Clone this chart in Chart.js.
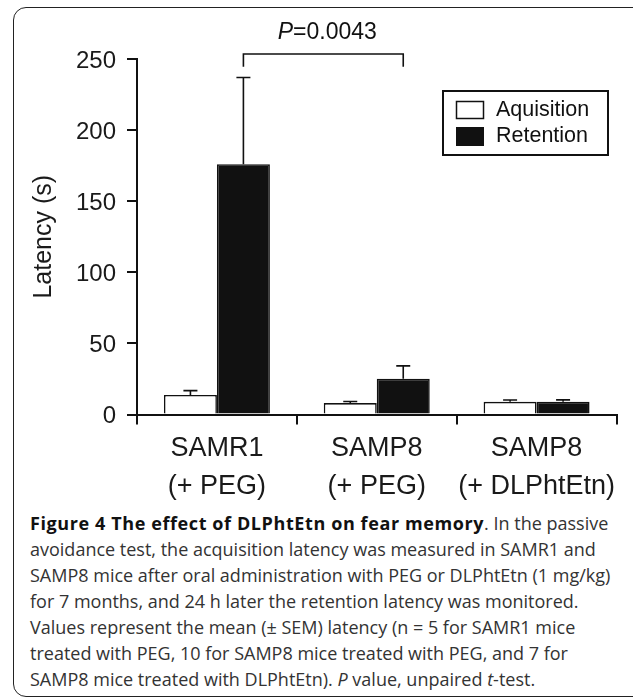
<!DOCTYPE html>
<html>
<head>
<meta charset="utf-8">
<title>Figure 4 - fear memory latency</title>
<script src="https://cdn.jsdelivr.net/npm/chart.js@4.4.1/dist/chart.umd.min.js"></script>
<style>
  html, body { margin: 0; padding: 0; background: #fff; }
  body { width: 633px; height: 700px; position: relative; overflow: hidden; }
  .frame {
    position: absolute; left: 13px; top: 7px; width: 640px; height: 690px;
    border: 1.5px solid #222; border-radius: 13px; box-sizing: border-box;
  }
  #chartWrap { position: absolute; left: 0; top: 0; width: 633px; height: 510px; }
  .caption {
    position: absolute; left: 30px; top: 510px;
    font-family: 'Open Sans', 'Noto Sans', sans-serif; font-size: 18px; line-height: 26px;
    color: #333; white-space: nowrap;
  }
  .caption b { color: #111; letter-spacing: 0.6px; }
</style>
</head>
<body>
<div class="frame"></div>
<div id="chartWrap"><canvas id="latencyChart" width="633" height="510"></canvas></div>
<div class="caption">
  <div><b>Figure 4 The effect of DLPhtEtn on fear memory</b>. In the passive</div>
  <div>avoidance test, the acquisition latency was measured in SAMR1 and</div>
  <div>SAMP8 mice after oral administration with PEG or DLPhtEtn (1 mg/kg)</div>
  <div>for 7 months, and 24 h later the retention latency was monitored.</div>
  <div>Values represent the mean (± SEM) latency (n = 5 for SAMR1 mice</div>
  <div>treated with PEG, 10 for SAMP8 mice treated with PEG, and 7 for</div>
  <div>SAMP8 mice treated with DLPhtEtn). <i>P</i> value, unpaired <i>t</i>-test.</div>
</div>

<script>
// Data
const groups = [['SAMR1', '(+ PEG)'], ['SAMP8', '(+ PEG)'], ['SAMP8', '(+ DLPhtEtn)']];
const seriesNames = ['Aquisition', 'Retention'];
const acquisition = [13.8, 8.0, 8.9];
const acquisitionSem = [3.0, 1.1, 1.3];
const retention = [176, 25.2, 9.0];
const retentionSem = [61, 9.0, 1.3];
const yTicks = [0, 50, 100, 150, 200, 250];
const pText = '=0.0043';

const INK = '#111';
const FONT = "'Liberation Sans', Arial, Helvetica, sans-serif";

// one-sided (upward) SEM bars
const errorBars = {
    id: 'errorBars',
    afterDatasetsDraw(chart) {
        const ctx = chart.ctx;
        const y = chart.scales.y;
        const sems = [acquisitionSem, retentionSem];
        ctx.save();
        ctx.strokeStyle = INK;
        ctx.lineWidth = 1.6;
        chart.data.datasets.forEach((ds, i) => {
            chart.getDatasetMeta(i).data.forEach((bar, j) => {
                const top = y.getPixelForValue(ds.data[j] + sems[i][j]);
                ctx.beginPath();
                ctx.moveTo(bar.x, bar.y);
                ctx.lineTo(bar.x, top);
                ctx.moveTo(bar.x - 7, top);
                ctx.lineTo(bar.x + 7, top);
                ctx.stroke();
            });
        });
        ctx.restore();
    }
};

// significance bracket + legend box
const annotations = {
    id: 'annotations',
    afterDraw(chart) {
        const ctx = chart.ctx;
        const y = chart.scales.y;
        const ret = chart.getDatasetMeta(1).data;
        const x1 = ret[0].x, x2 = ret[1].x;
        const top = y.getPixelForValue(253.5);
        const leg = y.getPixelForValue(244.5);

        ctx.save();
        ctx.strokeStyle = INK;
        ctx.lineWidth = 1.6;
        ctx.beginPath();
        ctx.moveTo(x1, leg);
        ctx.lineTo(x1, top);
        ctx.lineTo(x2, top);
        ctx.lineTo(x2, leg);
        ctx.stroke();

        // P=0.0043 with italic P
        ctx.fillStyle = INK;
        ctx.textBaseline = 'middle';
        ctx.font = 'italic 23px ' + FONT;
        const wP = ctx.measureText('P').width;
        ctx.font = '23px ' + FONT;
        const wRest = ctx.measureText(pText).width;
        const startX = (x1 + x2) / 2 + 4 - (wP + wRest) / 2;
        ctx.textAlign = 'left';
        ctx.font = 'italic 23px ' + FONT;
        ctx.fillText('P', startX, 33);
        ctx.font = '23px ' + FONT;
        ctx.fillText(pText, startX + wP, 33);

        // legend
        ctx.lineWidth = 2;
        ctx.strokeRect(443, 91, 165, 64);
        ctx.lineWidth = 1.5;
        ctx.fillStyle = '#fff';
        ctx.fillRect(456.5, 101.5, 27, 17);
        ctx.strokeRect(456.5, 101.5, 27, 17);
        ctx.fillStyle = INK;
        ctx.fillRect(456, 127, 28, 19);
        ctx.font = '21.5px ' + FONT;
        ctx.fillText(seriesNames[0], 496, 110);
        ctx.fillText(seriesNames[1], 496, 136);
        ctx.restore();
    }
};

new Chart(document.getElementById('latencyChart'), {
    type: 'bar',
    data: {
        labels: groups,
        datasets: [{
            label: seriesNames[0],
            data: acquisition,
            backgroundColor: '#fff',
            borderColor: INK,
            borderWidth: 1.6
        }, {
            label: seriesNames[1],
            data: retention,
            backgroundColor: INK,
            borderColor: INK,
            borderWidth: 1.6
        }]
    },
    options: {
        responsive: false,
        animation: false,
        events: [],
        layout: { padding: { left: 0, right: 16.5, top: 59, bottom: 0 } },
        datasets: { bar: { barPercentage: 1, categoryPercentage: 0.663 } },
        plugins: {
            legend: { display: false },
            tooltip: { enabled: false }
        },
        scales: {
            x: {
                z: 1,
                afterFit: (scale) => { scale.height = 95.5; },
                grid: {
                    offset: true,
                    drawOnChartArea: false,
                    color: INK,
                    lineWidth: 2,
                    tickLength: 10
                },
                border: { color: INK, width: 2 },
                ticks: {
                    color: '#1a1a1a',
                    font: { family: FONT, size: 27, lineHeight: 1.4 },
                    padding: 5,
                    maxRotation: 0,
                    autoSkip: false
                }
            },
            y: {
                min: yTicks[0],
                max: yTicks[yTicks.length - 1],
                afterFit: (scale) => { scale.width = 137; },
                afterBuildTicks: (scale) => { scale.ticks = yTicks.map(v => ({ value: v })); },
                grid: {
                    drawOnChartArea: false,
                    color: INK,
                    lineWidth: 2,
                    tickLength: 10
                },
                border: { color: INK, width: 2 },
                ticks: {
                    color: '#1a1a1a',
                    font: { family: FONT, size: 24 },
                    padding: 11,
                    labelOffset: 2
                },
                title: {
                    display: true,
                    text: 'Latency (s)',
                    color: '#1a1a1a',
                    font: { family: FONT, size: 25 },
                    padding: { top: 29, bottom: 0 }
                }
            }
        }
    },
    plugins: [errorBars, annotations]
});
</script>
</body>
</html>
